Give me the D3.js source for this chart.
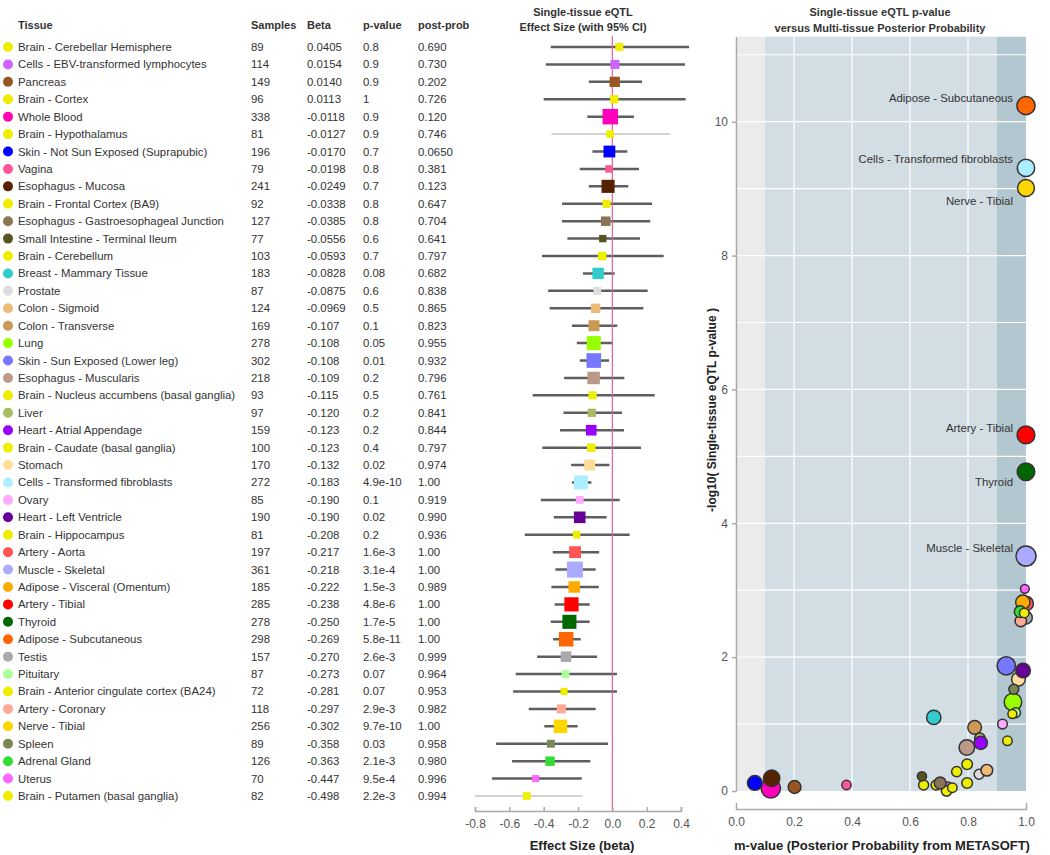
<!DOCTYPE html>
<html>
<head>
<meta charset="utf-8">
<script src="https://cdn.jsdelivr.net/npm/d3@7"></script>
<style>
  body { margin: 0; background: #fff; }
  svg text { font-family: "Liberation Sans", Arial, sans-serif; }
</style>
</head>
<body>
<div id="chart"></div>
<script>
// table / forest data, one entry per tissue row
const tissues = [
  "Brain - Cerebellar Hemisphere", "Cells - EBV-transformed lymphocytes", "Pancreas", "Brain - Cortex",
  "Whole Blood", "Brain - Hypothalamus", "Skin - Not Sun Exposed (Suprapubic)", "Vagina",
  "Esophagus - Mucosa", "Brain - Frontal Cortex (BA9)", "Esophagus - Gastroesophageal Junction",
  "Small Intestine - Terminal Ileum", "Brain - Cerebellum", "Breast - Mammary Tissue", "Prostate",
  "Colon - Sigmoid", "Colon - Transverse", "Lung", "Skin - Sun Exposed (Lower leg)",
  "Esophagus - Muscularis", "Brain - Nucleus accumbens (basal ganglia)", "Liver",
  "Heart - Atrial Appendage", "Brain - Caudate (basal ganglia)", "Stomach",
  "Cells - Transformed fibroblasts", "Ovary", "Heart - Left Ventricle", "Brain - Hippocampus",
  "Artery - Aorta", "Muscle - Skeletal", "Adipose - Visceral (Omentum)", "Artery - Tibial",
  "Thyroid", "Adipose - Subcutaneous", "Testis", "Pituitary",
  "Brain - Anterior cingulate cortex (BA24)", "Artery - Coronary", "Nerve - Tibial", "Spleen",
  "Adrenal Gland", "Uterus", "Brain - Putamen (basal ganglia)"
];
const tissueColors = [
  "#EEEE00", "#CC66FF", "#995522", "#EEEE00", "#FF00BB", "#EEEE00", "#0000FF", "#FF5599",
  "#552200", "#EEEE00", "#8B7355", "#555522", "#EEEE00", "#33CCCC", "#DDDDDD", "#EEBB77",
  "#CC9955", "#99FF00", "#7777FF", "#BB9988", "#EEEE00", "#AABB66", "#9900FF", "#EEEE00",
  "#FFDD99", "#AAEEFF", "#FFAAFF", "#660099", "#EEEE00", "#FF5555", "#AAAAFF", "#FFAA00",
  "#FF0000", "#006600", "#FF6600", "#AAAAAA", "#AAFF99", "#EEEE00", "#FFAA99", "#FFD700",
  "#778855", "#33DD33", "#FF66FF", "#EEEE00"
];
const samples = [
  89, 114, 149, 96, 338, 81, 196, 79, 241, 92, 127, 77, 103, 183, 87, 124, 169, 278, 302, 218,
  93, 97, 159, 100, 170, 272, 85, 190, 81, 197, 361, 185, 285, 278, 298, 157, 87, 72, 118, 256,
  89, 126, 70, 82
];
const betas = [
  0.0405, 0.0154, 0.0140, 0.0113, -0.0118, -0.0127, -0.0170, -0.0198, -0.0249, -0.0338,
  -0.0385, -0.0556, -0.0593, -0.0828, -0.0875, -0.0969, -0.107, -0.108, -0.108, -0.109,
  -0.115, -0.120, -0.123, -0.123, -0.132, -0.183, -0.190, -0.190, -0.208, -0.217,
  -0.218, -0.222, -0.238, -0.250, -0.269, -0.270, -0.273, -0.281, -0.297, -0.302,
  -0.358, -0.363, -0.447, -0.498
];
const pValues = [
  "0.8", "0.9", "0.9", "1", "0.9", "0.9", "0.7", "0.8", "0.7", "0.8", "0.8", "0.6", "0.7",
  "0.08", "0.6", "0.5", "0.1", "0.05", "0.01", "0.2", "0.5", "0.2", "0.2", "0.4", "0.02",
  "4.9e-10", "0.1", "0.02", "0.2", "1.6e-3", "3.1e-4", "1.5e-3", "4.8e-6", "1.7e-5",
  "5.8e-11", "2.6e-3", "0.07", "0.07", "2.9e-3", "9.7e-10", "0.03", "2.1e-3", "9.5e-4", "2.2e-3"
];
const postProbs = [
  "0.690", "0.730", "0.202", "0.726", "0.120", "0.746", "0.0650", "0.381", "0.123", "0.647",
  "0.704", "0.641", "0.797", "0.682", "0.838", "0.865", "0.823", "0.955", "0.932", "0.796",
  "0.761", "0.841", "0.844", "0.797", "0.974", "1.00", "0.919", "0.990", "0.936", "1.00",
  "1.00", "0.989", "1.00", "1.00", "1.00", "0.999", "0.964", "0.953", "0.982", "1.00",
  "0.958", "0.980", "0.996", "0.994"
];
// 95% CI ends
const ciLow = [
  -0.359, -0.388, -0.137, -0.400, -0.146, -0.355, -0.116, -0.190, -0.137, -0.293,
  -0.293, -0.262, -0.410, -0.171, -0.374, -0.365, -0.235, -0.207, -0.190, -0.281,
  -0.464, -0.285, -0.305, -0.408, -0.240, -0.235, -0.417, -0.341, -0.510, -0.347,
  -0.332, -0.355, -0.336, -0.359, -0.345, -0.438, -0.563, -0.578, -0.487, -0.396,
  -0.677, -0.584, -0.701, -0.800
];
const ciHigh = [
  0.447, 0.423, 0.173, 0.427, 0.126, 0.336, 0.087, 0.155, 0.093, 0.231,
  0.221, 0.161, 0.299, 0.014, 0.206, 0.181, 0.029, 0.000, -0.019, 0.070,
  0.247, 0.056, 0.068, 0.167, -0.017, -0.122, 0.043, -0.033, 0.101, -0.077,
  -0.097, -0.079, -0.132, -0.132, -0.184, -0.089, 0.027, 0.027, -0.097, -0.202,
  -0.025, -0.128, -0.178, -0.175
];
// -log10(p) of each point (unrounded p-values)
const negLogP = [
  0.09, 0.05, 0.06, 0.00, 0.04, 0.05, 0.12, 0.09, 0.19, 0.09,
  0.12, 0.22, 0.12, 1.10, 0.25, 0.31, 0.95, 1.33, 1.87, 0.65,
  0.29, 0.79, 0.72, 0.40, 1.67, 9.31, 1.00, 1.80, 0.75, 2.80,
  3.51, 2.82, 5.32, 4.77, 10.24, 2.59, 1.17, 1.15, 2.54, 9.01,
  1.52, 2.68, 3.02, 2.66
];
// rows whose CI line is drawn faint
const faintRows = ["Brain - Hypothalamus", "Brain - Putamen (basal ganglia)"];

// labelled points on the scatter, dy = label offset from the point
const scatterLabels = [
  { tissue: "Adipose - Subcutaneous", dy: -8 },
  { tissue: "Cells - Transformed fibroblasts", dy: -9 },
  { tissue: "Nerve - Tibial", dy: 13 },
  { tissue: "Artery - Tibial", dy: -7 },
  { tissue: "Thyroid", dy: 10 },
  { tissue: "Muscle - Skeletal", dy: -8.5 },
];

const forestTicks = [-0.8, -0.6, -0.4, -0.2, 0.0, 0.2, 0.4];
const mTicks = [0, 0.2, 0.4, 0.6, 0.8, 1.0];
const logPTicks = [0, 2, 4, 6, 8, 10];

const width = 1050, height = 855;
const rowTop = 47, rowBottom = 796;
const cols = { dot: 8, tissue: 18, samples: 251, beta: 307, pval: 363, post: 418 };
const textColor = "#333";
const axisColor = "#aaa";
const tickTextColor = "#555";
const tableFont = 11.4;

const rows = tissues.map((t, i) => ({
  tissue: t,
  color: tissueColors[i],
  samples: samples[i],
  beta: betas[i],
  pval: pValues[i],
  post: postProbs[i],
  lo: ciLow[i],
  hi: ciHigh[i],
  lp: negLogP[i],
}));

const svg = d3.select("#chart").append("svg")
  .attr("width", width)
  .attr("height", height);

const y = d3.scalePoint().domain(tissues).range([rowTop, rowBottom]);
const fmtBeta = (v) => d3.format(".3r")(v).replace("\u2212", "-");

function drawTable() {
  const g = svg.append("g").attr("id", "table");
  const header = [
    ["Tissue", cols.tissue], ["Samples", cols.samples], ["Beta", cols.beta],
    ["p-value", cols.pval], ["post-prob", cols.post],
  ];
  g.selectAll("text.hdr")
    .data(header)
    .join("text")
    .attr("class", "hdr")
    .attr("x", (d) => d[1])
    .attr("y", 25)
    .attr("dy", "0.35em")
    .attr("font-size", 11)
    .attr("font-weight", "bold")
    .attr("fill", textColor)
    .text((d) => d[0]);

  const row = g.selectAll("g.row")
    .data(rows)
    .join("g")
    .attr("class", "row")
    .attr("transform", (d) => `translate(0, ${y(d.tissue)})`);

  row.append("circle")
    .attr("cx", cols.dot)
    .attr("cy", 0)
    .attr("r", 5)
    .attr("fill", (d) => d.color);

  const cells = [
    [cols.tissue, (d) => d.tissue],
    [cols.samples, (d) => d.samples],
    [cols.beta, (d) => fmtBeta(d.beta)],
    [cols.pval, (d) => d.pval],
    [cols.post, (d) => d.post],
  ];
  cells.forEach(([x, f]) => {
    row.append("text")
      .attr("x", x)
      .attr("y", 0)
      .attr("dy", "0.35em")
      .attr("font-size", tableFont)
      .attr("fill", textColor)
      .text(f);
  });
}

function drawForest() {
  const g = svg.append("g").attr("id", "forest");
  const x = d3.scaleLinear().domain([-0.8, 0.4]).range([475, 681]);
  const side = d3.scaleSqrt().domain([0, 361]).range([0, 16]);
  const axisY = 811;

  g.append("text")
    .attr("x", 583).attr("y", 12).attr("dy", "0.35em")
    .attr("text-anchor", "middle").attr("font-size", 11).attr("font-weight", "bold")
    .attr("fill", textColor).text("Single-tissue eQTL");
  g.append("text")
    .attr("x", 583).attr("y", 27).attr("dy", "0.35em")
    .attr("text-anchor", "middle").attr("font-size", 11).attr("font-weight", "bold")
    .attr("fill", textColor).text("Effect Size (with 95% CI)");

  // CI lines
  g.selectAll("line.ci")
    .data(rows)
    .join("line")
    .attr("class", "ci")
    .attr("x1", (d) => x(d.lo))
    .attr("x2", (d) => x(d.hi))
    .attr("y1", (d) => y(d.tissue))
    .attr("y2", (d) => y(d.tissue))
    .attr("stroke", (d) => (faintRows.includes(d.tissue) ? "#c4c4c4" : "#5e5e5e"))
    .attr("stroke-width", (d) => (faintRows.includes(d.tissue) ? 1.5 : 2.5));

  // zero line
  g.append("line")
    .attr("x1", x(0)).attr("x2", x(0))
    .attr("y1", 36).attr("y2", axisY)
    .attr("stroke", "#e0609a").attr("stroke-width", 1.2);

  g.selectAll("rect.effect")
    .data(rows)
    .join("rect")
    .attr("class", "effect")
    .attr("x", (d) => x(d.beta) - side(d.samples) / 2)
    .attr("y", (d) => y(d.tissue) - side(d.samples) / 2)
    .attr("width", (d) => side(d.samples))
    .attr("height", (d) => side(d.samples))
    .attr("fill", (d) => d.color);

  g.append("g")
    .attr("transform", `translate(0, ${axisY})`)
    .call(d3.axisBottom(x).tickValues(forestTicks).tickSize(-4).tickPadding(8))
    .call((a) => a.selectAll("path, line").attr("stroke", axisColor).attr("stroke-width", 1.5))
    .call((a) => a.selectAll("text")
      .attr("font-size", 12)
      .attr("fill", tickTextColor)
      .attr("font-family", "Liberation Sans, Arial, sans-serif")
      .text((d) => d3.format(".1f")(d).replace("\u2212", "-")));

  g.append("text")
    .attr("x", 582).attr("y", 845).attr("dy", "0.35em")
    .attr("text-anchor", "middle").attr("font-size", 13).attr("font-weight", "bold")
    .attr("fill", "#222").text("Effect Size (beta)");
}

function drawScatter() {
  const g = svg.append("g").attr("id", "scatter");
  const x = d3.scaleLinear().domain([0, 1]).range([736, 1026]);
  const yS = d3.scaleLinear().domain([0, 11.27]).range([791, 36.7]);
  const r = d3.scaleSqrt().domain([0, 361]).range([0, 10]);

  g.append("text")
    .attr("x", 880).attr("y", 12).attr("dy", "0.35em")
    .attr("text-anchor", "middle").attr("font-size", 11).attr("font-weight", "bold")
    .attr("fill", textColor).text("Single-tissue eQTL p-value");
  g.append("text")
    .attr("x", 880).attr("y", 28).attr("dy", "0.35em")
    .attr("text-anchor", "middle").attr("font-size", 11).attr("font-weight", "bold")
    .attr("fill", textColor).text("versus Multi-tissue Posterior Probability");

  // background bands
  const bands = [[0, 0.1, "#ebebeb"], [0.1, 0.9, "#d2dee4"], [0.9, 1.0, "#b3c7d0"]];
  g.selectAll("rect.band")
    .data(bands)
    .join("rect")
    .attr("class", "band")
    .attr("x", (d) => x(d[0]))
    .attr("width", (d) => x(d[1]) - x(d[0]))
    .attr("y", yS(11.27))
    .attr("height", yS(0) - yS(11.27))
    .attr("fill", (d) => d[2]);

  // grid
  g.selectAll("line.hgrid")
    .data(d3.range(1, 12))
    .join("line")
    .attr("class", "hgrid")
    .attr("x1", x(0)).attr("x2", x(1))
    .attr("y1", (d) => yS(d)).attr("y2", (d) => yS(d))
    .attr("stroke", "#fff").attr("stroke-width", 1.2);
  g.selectAll("line.vgrid")
    .data([0.2, 0.4, 0.6, 0.8])
    .join("line")
    .attr("class", "vgrid")
    .attr("x1", (d) => x(d)).attr("x2", (d) => x(d))
    .attr("y1", yS(11.27)).attr("y2", yS(0))
    .attr("stroke", "#fff").attr("stroke-width", 1.2);

  g.selectAll("circle.pt")
    .data(rows)
    .join("circle")
    .attr("class", "pt")
    .attr("cx", (d) => x(+d.post))
    .attr("cy", (d) => yS(d.lp))
    .attr("r", (d) => r(d.samples))
    .attr("fill", (d) => d.color)
    .attr("stroke", "#333")
    .attr("stroke-width", 1.5);

  scatterLabels.forEach((lab) => {
    const p = rows.find((d) => d.tissue === lab.tissue);
    g.append("text")
      .attr("x", x(+p.post) - 13)
      .attr("y", yS(p.lp) + lab.dy)
      .attr("dy", "0.35em")
      .attr("text-anchor", "end")
      .attr("font-size", 11.4)
      .attr("fill", textColor)
      .text(lab.tissue);
  });

  // axes
  g.append("g")
    .attr("transform", "translate(736, 0)")
    .call(d3.axisLeft(yS).tickValues(logPTicks).tickSize(4).tickSizeOuter(0).tickPadding(4))
    .call((a) => a.selectAll("path, line").attr("stroke", axisColor).attr("stroke-width", 1.5))
    .call((a) => a.selectAll("text").attr("font-size", 12).attr("fill", tickTextColor)
      .attr("font-family", "Liberation Sans, Arial, sans-serif"));

  g.append("g")
    .attr("transform", "translate(0, 809)")
    .call(d3.axisBottom(x).tickValues(mTicks).tickFormat(d3.format(".1f")).tickSizeInner(0).tickSizeOuter(-6).tickPadding(8))
    .call((a) => a.selectAll("path, line").attr("stroke", axisColor).attr("stroke-width", 1.5))
    .call((a) => a.selectAll("text").attr("font-size", 12).attr("fill", tickTextColor)
      .attr("font-family", "Liberation Sans, Arial, sans-serif"));

  g.append("text")
    .attr("x", 882).attr("y", 845).attr("dy", "0.35em")
    .attr("text-anchor", "middle").attr("font-size", 13).attr("font-weight", "bold")
    .attr("fill", "#222").text("m-value (Posterior Probability from METASOFT)");

  g.append("text")
    .attr("transform", "translate(712, 410) rotate(-90)")
    .attr("text-anchor", "middle").attr("dy", "0.35em")
    .attr("font-size", 12).attr("font-weight", "bold")
    .attr("fill", "#222").text("-log10( Single-tissue eQTL p-value )");
}

drawTable();
drawForest();
drawScatter();
</script>
</body>
</html>
